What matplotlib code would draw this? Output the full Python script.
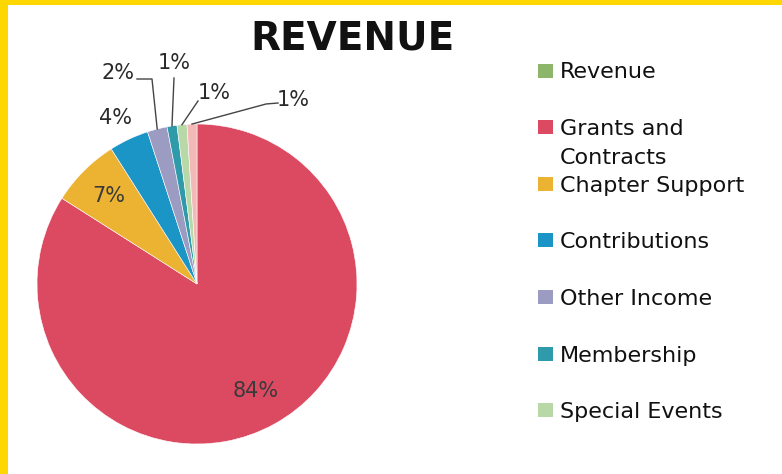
import numpy as np
import matplotlib
matplotlib.use("Agg")
import matplotlib.pyplot as plt
from matplotlib.patches import Rectangle

# ---- data ----
categories = ["Revenue", "Grants and\nContracts", "Chapter Support", "Contributions",
              "Other Income", "Membership", "Special Events", "Other"]
values = [0, 84, 7, 4, 2, 1, 1, 1]
pct_labels = ["", "84%", "7%", "4%", "2%", "1%", "1%", "1%"]
colors = ["#8DB66A", "#DC4A62", "#ECB232", "#1B94C6", "#9C9CC2", "#2F9BAA", "#B9D8A8", "#F3B9B7"]
legend_count = 7

W, H = 782, 474
fig = plt.figure(figsize=(W / 100, H / 100), dpi=100)
fig.patch.set_facecolor("white")

def fx(px):
    return px / W

def fy(py):
    return 1 - py / H

# yellow frame (left and top)
fig.patches.append(Rectangle((0, 0), fx(8), 1, transform=fig.transFigure,
                             facecolor="#FFD700", edgecolor="none", zorder=0))
fig.patches.append(Rectangle((0, fy(5)), 1, 1 - fy(5), transform=fig.transFigure,
                             facecolor="#FFD700", edgecolor="none", zorder=0))

# pie axes: center (197,284), radius 160 px
cx, cy, R = 197, 284, 160
ax = fig.add_axes([fx(cx - R), fy(cy + R), 2 * R / W, 2 * R / H])
wedges, _ = ax.pie(values, colors=colors, startangle=90, counterclock=False,
                   radius=1.0, wedgeprops=dict(edgecolor="white", linewidth=0.4))
ax.set_xlim(-1, 1)
ax.set_ylim(-1, 1)
ax.set_aspect("auto")
ax.axis("off")

def d(px, py):
    return ((px - cx) / R, (cy - py) / R)

# mid angles from data
total = float(sum(values))
cum = np.cumsum([0] + values[:-1])
mids = [np.deg2rad(90 - 360 * (c + v / 2) / total) for c, v in zip(cum, values)]

lab_kw = dict(fontsize=15, color="#2a2a2a", ha="center", va="center")
line_kw = dict(color="#444444", lw=1.0, clip_on=False)

# inside labels
for i, r in ((1, 0.76), (2, 0.78)):
    ax.text(r * np.cos(mids[i]), r * np.sin(mids[i]), pct_labels[i],
            **{**lab_kw, "color": "#3a3a3a"})
# 4% outside, no leader
ax.text(*d(115, 118), pct_labels[3], **lab_kw)

def edge(i):
    return np.cos(mids[i]), np.sin(mids[i])

# 2% with elbow leader
ex, ey = edge(4)
p1 = d(152, 79); p2 = d(137, 79)
ax.plot([ex, p1[0], p2[0]], [ey, p1[1], p2[1]], **line_kw)
ax.text(*d(118, 73), pct_labels[4], **lab_kw)
# membership 1%
ex, ey = edge(5)
p1 = d(174, 78)
ax.plot([ex, p1[0]], [ey, p1[1]], **line_kw)
ax.text(*d(174, 63), pct_labels[5], **lab_kw)
# special events 1%
ex, ey = edge(6)
p1 = d(198, 101)
ax.plot([ex, p1[0]], [ey, p1[1]], **line_kw)
ax.text(*d(214, 93), pct_labels[6], **lab_kw)
# other 1%
ex, ey = edge(7)
p1 = d(266, 104); p2 = d(278, 103)
ax.plot([ex, p1[0], p2[0]], [ey, p1[1], p2[1]], **line_kw)
ax.text(*d(293, 100), pct_labels[7], **lab_kw)

# title
fig.text(fx(352), fy(38), "REVENUE", fontsize=28, fontweight="bold",
         color="#111111", ha="center", va="center")

# legend (manual)
for i in range(legend_count):
    yc = 70.5 + 56.6 * i
    fig.patches.append(Rectangle((fx(538), fy(yc + 7)), 15 / W, 14 / H,
                                 transform=fig.transFigure, facecolor=colors[i],
                                 edgecolor="none"))
    for j, line in enumerate(categories[i].split("\n")):
        fig.text(fx(560), fy(yc + 8 + j * 29), line, fontsize=16,
                 color="#111111", ha="left", va="baseline")

fig.savefig("out.png", dpi=100, facecolor="white")
